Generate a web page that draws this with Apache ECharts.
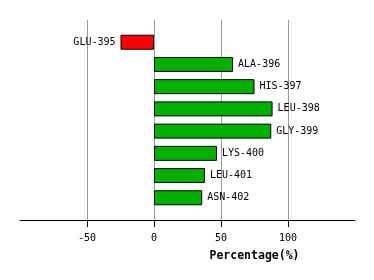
<!DOCTYPE html>
<html><head><meta charset="utf-8">
<script src="https://cdn.jsdelivr.net/npm/echarts@6/dist/echarts.min.js"></script>
<style>html,body{margin:0;padding:0;background:#fff}#c{width:374px;height:280px}</style>
</head><body><div id="c"></div>
<script>
const categories = ['GLU-395','ALA-396','HIS-397','LEU-398','GLY-399','LYS-400','LEU-401','ASN-402'];
const values = [-25, 59, 75, 88.5, 87.5, 47, 38, 36];
const tickLabels = [-50, 0, 50, 100];
const axisTitle = 'Percentage(%)';

const font = 'DejaVu Sans Mono';
const yData = [''].concat(categories, ['']);
const sData = [null].concat(values.map(v => ({
  value: v,
  itemStyle: { color: v < 0 ? '#ff0000' : '#00b000' },
  label: { position: v < 0 ? 'left' : 'right' }
})), [null]);

const chart = echarts.init(document.getElementById('c'), null, {renderer: 'canvas'});
chart.setOption({
  animation: false,
  grid: { left: 20, right: 19, top: 20, bottom: 60, containLabel: false },
  xAxis: {
    type: 'value', min: -100, max: 150, interval: 50,
    name: axisTitle, nameLocation: 'middle', nameGap: 30,
    nameTextStyle: { fontFamily: font, fontWeight: 'bold', fontSize: 11.5, color: '#000', padding: [0, 0, 0, 134] },
    axisLine: { show: true, onZero: false, lineStyle: { color: '#000', width: 1 } },
    axisTick: { show: false },
    axisLabel: { fontFamily: font, fontSize: 10, color: '#000', margin: 13,
      formatter: v => tickLabels.indexOf(v) >= 0 ? String(v) : '' },
    splitLine: { show: true, showMinLine: false, showMaxLine: false, lineStyle: { color: '#999', width: 1 } }
  },
  yAxis: {
    type: 'category', data: yData, inverse: true, boundaryGap: false,
    axisLine: { show: false }, axisTick: { show: false }, axisLabel: { show: false }, splitLine: { show: false }
  },
  series: [{
    type: 'bar', data: sData, barWidth: 15,
    itemStyle: { borderColor: '#000', borderWidth: 1 },
    label: { show: true, formatter: '{b}', distance: 5, fontFamily: font, fontSize: 10, color: '#000' }
  }, {
    type: 'custom', clip: false, z: 10,
    data: tickLabels.map(v => [v, yData.length - 1]),
    renderItem: function (params, api) {
      const p = api.coord([api.value(0), api.value(1)]);
      return { type: 'rect', z2: 10,
               shape: { x: Math.round(p[0]), y: Math.round(p[1]), width: 1, height: 7 },
               style: { fill: '#000' } };
    }
  }]
});
</script></body></html>
